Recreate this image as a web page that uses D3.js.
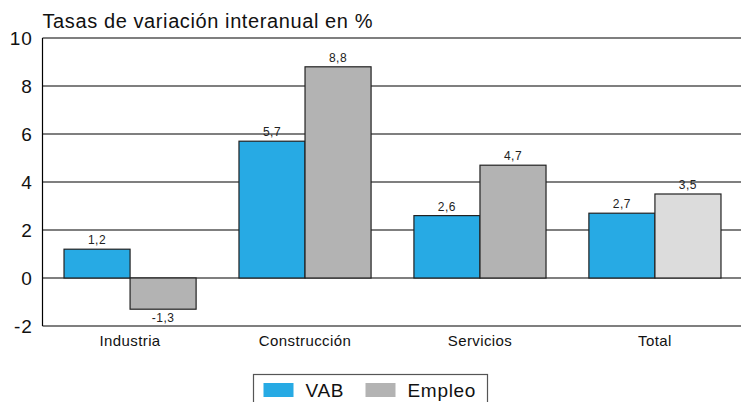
<!DOCTYPE html>
<html>
<head>
<meta charset="utf-8">
<script src="https://cdn.jsdelivr.net/npm/d3@7"></script>
<style>
  body { margin: 0; background: #fff; }
  svg { font-family: "Liberation Sans", Arial, sans-serif; display: block; }
</style>
</head>
<body>
<div id="chart"></div>
<script>
const categories = ["Industria", "Construcción", "Servicios", "Total"];
const seriesNames = ["VAB", "Empleo"];
const vab = [1.2, 5.7, 2.6, 2.7];
const empleo = [-1.3, 8.8, 4.7, 3.5];
const yTicks = [-2, 0, 2, 4, 6, 8, 10];

const W = 741, H = 402;
const margin = { top: 38, right: -1, bottom: 76, left: 42 };
const width = W - margin.left - margin.right,
  height = H - margin.top - margin.bottom;

const colors = { VAB: "#27aae4", Empleo: "#b3b3b3" };
const totalEmpleoColor = "#dcdcdc";

const svg = d3.select("#chart").append("svg").attr("width", W).attr("height", H);
const g = svg.append("g").attr("transform", `translate(${margin.left + 0.5},${margin.top})`);

const x0 = d3.scaleBand().domain(categories).range([0, width]).paddingInner(0.245).paddingOuter(0.123);
const x1 = d3.scaleBand().domain(seriesNames).range([0, x0.bandwidth()]);
const y = d3.scaleLinear().domain([-2, 10]).range([height, 0]);

// gridlines
g.selectAll(".grid").data(yTicks).enter().append("line")
  .attr("x1", 0).attr("x2", width)
  .attr("y1", d => y(d)).attr("y2", d => y(d))
  .attr("stroke", "#000").attr("stroke-width", 1.2);

// left axis line
g.append("line").attr("x1", 0).attr("x2", 0).attr("y1", 0).attr("y2", height)
  .attr("stroke", "#000").attr("stroke-width", 1.2);

// y tick labels
g.selectAll(".ytick").data(yTicks).enter().append("text")
  .attr("x", -10).attr("y", d => y(d)).attr("dy", "0.36em")
  .attr("text-anchor", "end").style("font-size", "19px").style("letter-spacing", "0.8px")
  .attr("fill", "#111")
  .text(d => d);

// title
g.append("text").attr("x", 0).attr("y", -10)
  .style("font-size", "20px").style("letter-spacing", "0.6px").attr("fill", "#111")
  .text("Tasas de variación interanual en %");

const rows = [];
categories.forEach((c, i) => {
  rows.push({ cat: c, key: "VAB", value: vab[i] });
  rows.push({ cat: c, key: "Empleo", value: empleo[i] });
});

g.selectAll(".bar").data(rows).enter().append("rect")
  .attr("x", d => x0(d.cat) + x1(d.key))
  .attr("y", d => y(Math.max(0, d.value)))
  .attr("width", x1.bandwidth())
  .attr("height", d => Math.abs(y(d.value) - y(0)))
  .attr("fill", d => (d.cat === "Total" && d.key === "Empleo") ? totalEmpleoColor : colors[d.key])
  .attr("stroke", "#222").attr("stroke-width", 1.2);

const fmt = v => String(v).replace(".", ",");
g.selectAll(".val").data(rows).enter().append("text")
  .attr("x", d => x0(d.cat) + x1(d.key) + x1.bandwidth() / 2)
  .attr("y", d => d.value >= 0 ? y(d.value) - 5 : y(d.value) + 13)
  .attr("text-anchor", "middle").style("font-size", "12px").style("letter-spacing", "0.5px")
  .attr("fill", "#222")
  .text(d => fmt(d.value));

// category labels
g.selectAll(".cat").data(categories).enter().append("text")
  .attr("x", d => x0(d) + x0.bandwidth() / 2)
  .attr("y", height + 20)
  .attr("text-anchor", "middle").style("font-size", "15px").style("letter-spacing", "0.4px")
  .attr("fill", "#111")
  .text(d => d);

// legend
const legend = svg.append("g").attr("transform", "translate(253.5,374.5)");
legend.append("rect").attr("width", 234).attr("height", 40)
  .attr("fill", "#fff").attr("stroke", "#555").attr("stroke-width", 1.2);
const legendX = [10, 112];
seriesNames.forEach((s, i) => {
  const row = legend.append("g").attr("transform", `translate(${legendX[i]},0)`);
  row.append("rect").attr("y", 8.5).attr("width", 30).attr("height", 14).attr("fill", colors[s]);
  row.append("text").attr("x", 42).attr("y", 22.5)
    .style("font-size", "19px").style("letter-spacing", "0.7px").attr("fill", "#111").text(s);
});
</script>
</body>
</html>
